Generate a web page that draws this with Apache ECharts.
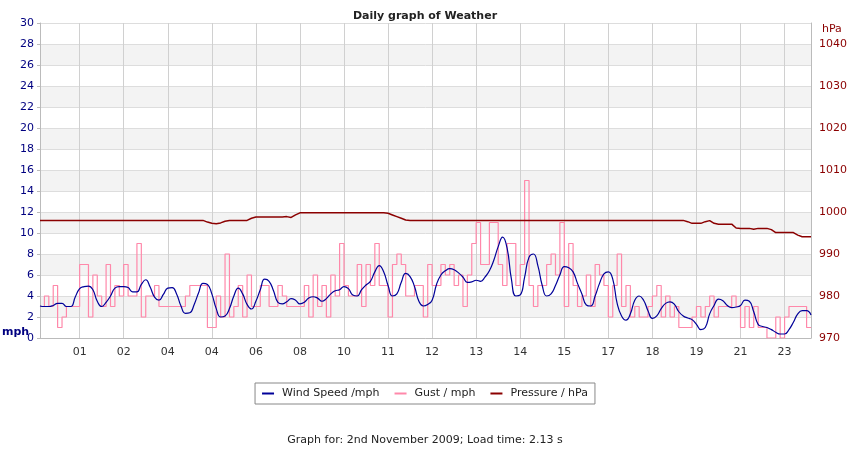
<!DOCTYPE html>
<html>
<head>
<meta charset="utf-8">
<title>Daily graph of Weather</title>
<script src="https://cdn.jsdelivr.net/npm/echarts@6/dist/echarts.min.js"></script>
<style>
  html, body { margin: 0; padding: 0; background: #fff; }
  #weather-chart { width: 850px; height: 450px; }
</style>
</head>
<body>
<div id="weather-chart"></div>
<script>
//hour labels shown under the vertical grid lines
var hourLabels = ['01', '02', '04', '04', '06', '08', '10', '11', '12', '13', '14', '15', '17', '18', '19', '21', '23'];
//first labelled sample and spacing between labels
var labelFirst = 9;
var labelEvery = 10;

//wind speed, mph
var windSpeed = [
    3.05, 3.0, 3.0, 3.1, 3.3, 3.3, 3.0, 3.0, 3.9, 4.7,
    4.9, 4.95, 4.6, 3.5, 3.0, 3.4, 4.0, 4.75, 4.9, 4.9,
    4.8, 4.4, 4.4, 5.1, 5.55, 4.85, 3.9, 3.6, 4.15, 4.75,
    4.8, 4.2, 3.05, 2.35, 2.4, 3.2, 4.3, 5.2, 5.1, 4.2,
    2.8, 2.0, 2.1, 2.8, 4.0, 4.75, 4.2, 3.2, 2.76, 3.5,
    4.6, 5.6, 5.4, 4.5, 3.4, 3.25, 3.45, 3.75, 3.6, 3.25,
    3.4, 3.8, 3.93, 3.8, 3.5, 3.75, 4.2, 4.5, 4.6, 4.9,
    4.7, 4.1, 4.0, 4.6, 5.05, 5.4, 6.3, 6.9, 6.3, 5.0,
    4.0, 4.2, 5.3, 6.15, 5.85, 4.9, 3.5, 3.05, 3.2, 3.6,
    5.1, 6.0, 6.4, 6.6, 6.5, 6.2, 5.8, 5.3, 5.35, 5.5,
    5.4, 5.8, 6.4, 7.4, 8.7, 9.6, 8.6, 5.6, 4.0, 4.1,
    5.8, 7.7, 8.0, 6.9, 5.0, 4.0, 4.2, 5.0, 6.0, 6.8,
    6.7, 6.3, 5.2, 4.2, 3.15, 3.05, 4.0, 5.2, 6.1, 6.3,
    5.6, 3.3, 2.1, 1.7, 2.3, 3.6, 4.0, 3.6, 2.6, 1.87,
    2.1, 2.8, 3.3, 3.45, 3.2, 2.5, 2.1, 1.9, 1.75, 1.3,
    0.8, 1.0, 2.3, 3.1, 3.7, 3.55, 3.1, 2.9, 2.95, 3.1,
    3.6, 3.5, 2.5, 1.3, 1.1, 1.0, 0.8, 0.55, 0.38, 0.38,
    0.8, 1.5, 2.3, 2.6, 2.6, 2.2
];

//gust, mph
var gust = [
    3, 4, 3, 5, 1, 2, 3, 3, 3, 7,
    7, 2, 6, 4, 3, 7, 3, 5, 4, 7,
    4, 4, 9, 2, 4, 4, 5, 3, 3, 3,
    3, 3, 3, 4, 5, 5, 5, 5, 1, 1,
    4, 2, 8, 2, 3, 5, 2, 6, 3, 3,
    5, 5, 3, 3, 5, 4, 3, 3, 3, 3,
    5, 2, 6, 3, 5, 2, 6, 4, 9, 5,
    4, 4, 7, 3, 7, 5, 9, 5, 5, 2,
    7, 8, 7, 4, 4, 5, 5, 2, 7, 5,
    5, 7, 6, 7, 5, 6, 3, 6, 9, 11,
    7, 7, 11, 11, 7, 5, 9, 9, 5, 7,
    15, 5, 3, 5, 5, 7, 8, 6, 11, 3,
    9, 5, 3, 4, 6, 3, 7, 6, 5, 2,
    5, 8, 3, 5, 2, 3, 2, 2, 3, 4,
    5, 2, 4, 2, 3, 1, 1, 1, 2, 3,
    2, 3, 4, 2, 3, 3, 3, 4, 3, 1,
    3, 1, 3, 1, 1, 0, 0, 2, 0, 2,
    3, 3, 3, 3, 1, 1
];

//pressure, hPa
var pressure = [
    998.0, 998.0, 998.0, 998.0, 998.0, 998.0, 998.0, 998.0, 998.0, 998.0,
    998.0, 998.0, 998.0, 998.0, 998.0, 998.0, 998.0, 998.0, 998.0, 998.0,
    998.0, 998.0, 998.0, 998.0, 998.0, 998.0, 998.0, 998.0, 998.0, 998.0,
    998.0, 998.0, 998.0, 998.0, 998.0, 998.0, 998.0, 998.0, 997.6, 997.3,
    997.2, 997.4, 997.8, 998.0, 998.0, 998.0, 998.0, 998.0, 998.5, 998.8,
    998.8, 998.8, 998.8, 998.8, 998.8, 998.8, 998.9, 998.7, 999.3, 999.8,
    999.8, 999.8, 999.8, 999.8, 999.8, 999.8, 999.8, 999.8, 999.8, 999.8,
    999.8, 999.8, 999.8, 999.8, 999.8, 999.8, 999.8, 999.8, 999.8, 999.7,
    999.3, 998.9, 998.5, 998.1, 998.0, 998.0, 998.0, 998.0, 998.0, 998.0,
    998.0, 998.0, 998.0, 998.0, 998.0, 998.0, 998.0, 998.0, 998.0, 998.0,
    998.0, 998.0, 998.0, 998.0, 998.0, 998.0, 998.0, 998.0, 998.0, 998.0,
    998.0, 998.0, 998.0, 998.0, 998.0, 998.0, 998.0, 998.0, 998.0, 998.0,
    998.0, 998.0, 998.0, 998.0, 998.0, 998.0, 998.0, 998.0, 998.0, 998.0,
    998.0, 998.0, 998.0, 998.0, 998.0, 998.0, 998.0, 998.0, 998.0, 998.0,
    998.0, 998.0, 998.0, 998.0, 998.0, 998.0, 998.0, 997.7, 997.3, 997.3,
    997.3, 997.7, 997.95, 997.3, 997.1, 997.1, 997.1, 997.1, 996.2, 996.1,
    996.1, 996.1, 995.9, 996.1, 996.1, 996.1, 995.8, 995.1, 995.1, 995.1,
    995.1, 995.1, 994.5, 994.1, 994.1, 994.1
];

//sample index categories
var samples = [];
for (var i = 0; i < windSpeed.length; i++) {
    samples.push(String(i));
}

function isLabelled(index) {
    return index >= labelFirst && (index - labelFirst) % labelEvery === 0;
}

var font = 'DejaVu Sans';
var chart = echarts.init(document.getElementById('weather-chart'));
var option = {
    animation: false,
    backgroundColor: '#ffffff',
    title: [{
            text: 'Daily graph of Weather',
            left: 'center',
            top: 6,
            textStyle: {fontFamily: font, fontSize: 11, fontWeight: 'bold', color: '#222'}
        }, {
            text: 'Graph for: 2nd November 2009; Load time: 2.13 s',
            left: 'center',
            top: 430,
            textStyle: {fontFamily: font, fontSize: 11, fontWeight: 'normal', color: '#222'}
        }],
    legend: {
        left: 'center',
        top: 383,
        padding: [5, 7],
        itemGap: 15,
        itemWidth: 12,
        itemHeight: 2,
        icon: 'rect',
        borderColor: '#888',
        borderWidth: 1,
        textStyle: {fontFamily: font, fontSize: 11, color: '#222', padding: [0, 0, 0, 3]},
        data: ['Wind Speed /mph', 'Gust / mph', 'Pressure / hPa']
    },
    graphic: [{
            type: 'text',
            left: 2,
            top: 327,
            style: {text: 'mph', fill: '#000080', font: 'bold 11px "DejaVu Sans"'}
        }, {
            type: 'text',
            left: 822,
            top: 24,
            style: {text: 'hPa', fill: '#8b0000', font: '11px "DejaVu Sans"'}
        }],
    grid: {left: 40, right: 38, top: 23, bottom: 112},
    xAxis: {
        type: 'category',
        boundaryGap: false,
        data: samples,
        axisLine: {lineStyle: {color: '#bbb'}},
        axisTick: {show: false},
        axisLabel: {
            interval: function (index) {
                return isLabelled(index);
            },
            formatter: function (value, index) {
                return hourLabels[(index - labelFirst) / labelEvery] || '';
            },
            color: '#333',
            fontFamily: font,
            fontSize: 11,
            margin: 9
        },
        splitLine: {
            show: true,
            interval: function (index) {
                return isLabelled(index);
            },
            lineStyle: {color: '#d0d0d0'}
        }
    },
    yAxis: [{
            type: 'value',
            min: 0,
            max: 30,
            interval: 2,
            axisLine: {show: true, lineStyle: {color: '#bbb'}},
            axisTick: {show: true, length: 3, lineStyle: {color: '#bbb'}},
            axisLabel: {color: '#000080', fontFamily: font, fontSize: 11, margin: 6},
            splitLine: {lineStyle: {color: '#dddddd'}},
            splitArea: {show: true, areaStyle: {color: ['#ffffff', '#f3f3f3']}}
        }, {
            type: 'value',
            min: 970,
            max: 1045,
            interval: 10,
            position: 'right',
            axisLine: {show: true, lineStyle: {color: '#bbb'}},
            axisTick: {show: false},
            axisLabel: {
                color: '#8b0000',
                fontFamily: font,
                fontSize: 11,
                margin: 8,
                showMaxLabel: false,
                formatter: function (value) {
                    return value > 1040 ? '' : value;
                }
            },
            splitLine: {show: false}
        }],
    series: [{
            name: 'Wind Speed /mph',
            type: 'line',
            data: windSpeed,
            smooth: 0.5,
            showSymbol: false,
            z: 4,
            color: '#000099',
            lineStyle: {width: 1.2, color: '#000099'}
        }, {
            name: 'Gust / mph',
            type: 'line',
            data: gust,
            step: 'end',
            showSymbol: false,
            z: 3,
            color: '#ff88aa',
            lineStyle: {width: 1.2, color: '#ff88aa'}
        }, {
            name: 'Pressure / hPa',
            type: 'line',
            yAxisIndex: 1,
            data: pressure,
            showSymbol: false,
            z: 5,
            color: '#8b0000',
            lineStyle: {width: 1.5, color: '#8b0000'}
        }]
};
chart.setOption(option);
</script>
</body>
</html>
